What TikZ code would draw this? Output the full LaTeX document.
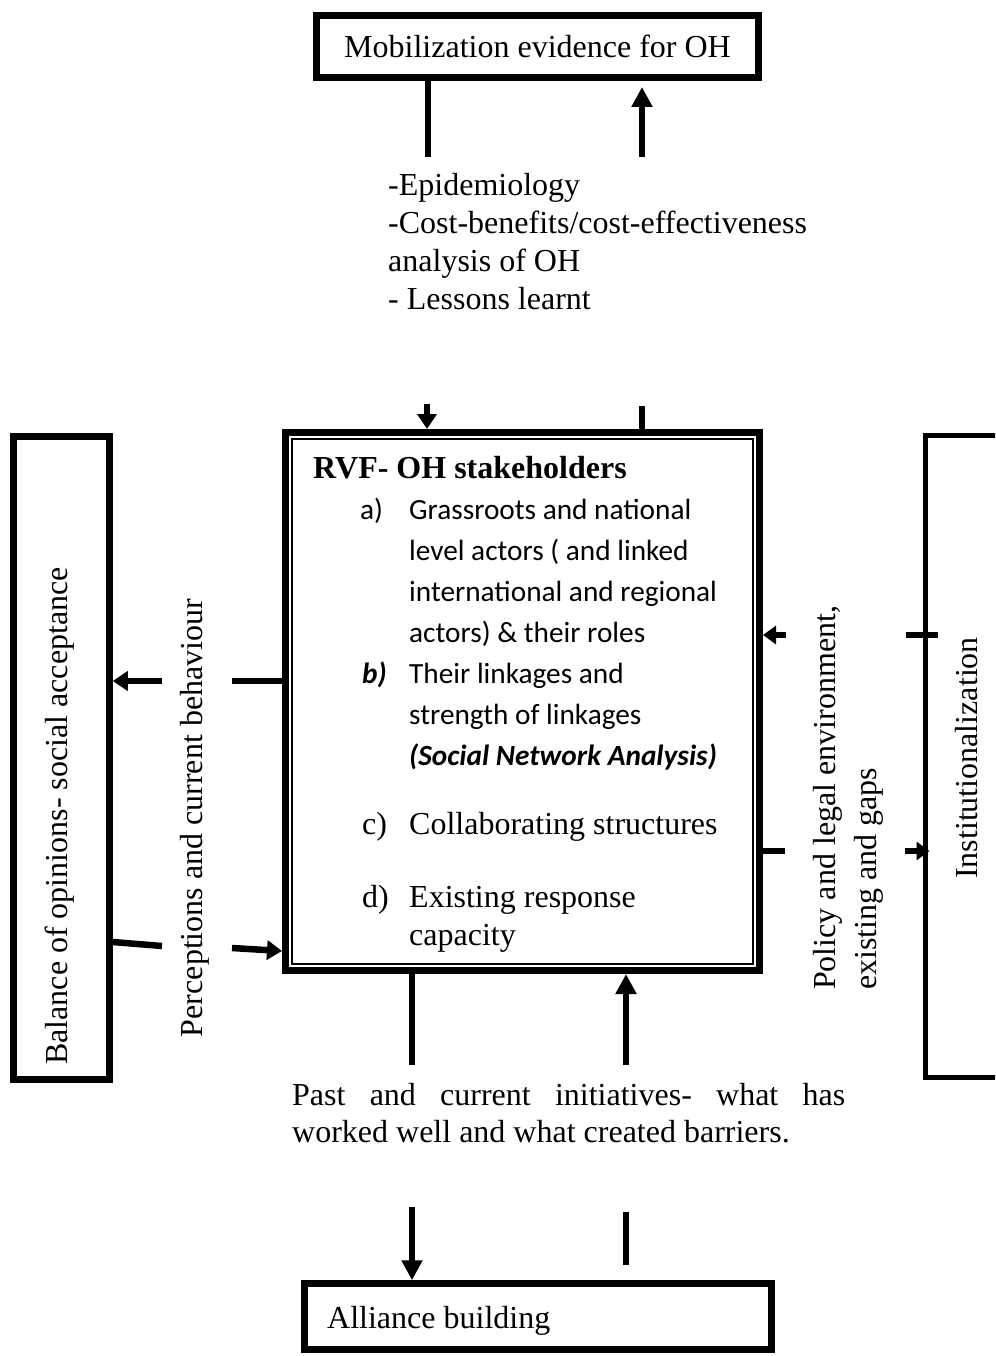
\documentclass[tikz,border=0pt]{standalone}
\usepackage{fontspec}
\setmainfont{Liberation Serif}
\newfontfamily\calibri{Carlito}
\usetikzlibrary{arrows.meta,calc}

\begin{document}
\begin{tikzpicture}[x=1pt,y=-1pt,
  box/.style={draw, rectangle, line width=7pt, inner sep=0pt},
  ln/.style={line width=6.5pt},
  arr/.style={line width=6.5pt, -{Triangle[length=20pt,width=20pt]}},
  arrshort/.style={line width=6.5pt, -{Triangle[length=15pt,width=19pt]}},
  arrsmall/.style={line width=6pt, -{Triangle[length=13pt,width=18pt]}},
  tm/.style={font=\fontsize{32}{38}\selectfont, inner sep=0pt},
  tmb/.style={font=\fontsize{32}{38}\selectfont\bfseries, inner sep=0pt},
  cb/.style={font=\calibri\fontsize{29.3}{41}\selectfont, inner sep=0pt},
  cbb/.style={font=\calibri\fontsize{29.3}{41}\selectfont\bfseries\itshape, inner sep=0pt},
]
\useasboundingbox (0,0) rectangle (995,1356);
\clip (0,0) rectangle (995,1356);

% boxes
\node[box, tm, minimum width=442pt, minimum height=62pt] (mob) at (537.5,46.5) {Mobilization evidence for OH};
\node[box, minimum width=474pt, minimum height=538pt] (rvf) at (522.5,701.5) {};
\draw[line width=1.5pt] ([shift={(10,10)}]rvf.north west) rectangle ([shift={(-10,-10)}]rvf.south east);
\node[box, line width=6.5pt, minimum width=96pt, minimum height=643pt] (bal) at (61.5,758) {};
\node[box, line width=5pt, minimum width=90pt, minimum height=642pt] (inst) at (970,756.5) {};
\node[box, line width=6.5pt, minimum width=467pt, minimum height=66pt] (all) at (538,1316.5) {};

% evidence list
\node[tm, anchor=base west] (ev1) at (388,196) {-Epidemiology};
\node[tm, anchor=base west] (ev2) at (388,234) {-Cost-benefits/cost-effectiveness};
\node[tm, anchor=base west] (ev3) at (388,272) {analysis of OH};
\node[tm, anchor=base west] (ev4) at (388,309) {- Lessons learnt};

% stakeholder box content
\node[tmb, anchor=base west] (ttl) at (313,478) {RVF- OH stakeholders};
\node[cb, anchor=base west] (la) at (360,519) {a)};
\node[cb, anchor=base west] (a1) at (409,519) {Grassroots and national};
\node[cb, anchor=base west] (a2) at (409,560) {level actors ( and linked};
\node[cb, anchor=base west] (a3) at (409,601) {international and regional};
\node[cb, anchor=base west] (a4) at (409,642) {actors) \& their roles};
\node[cbb, anchor=base west] (lb) at (362,683) {b)};
\node[cb, anchor=base west] (b1t) at (409,683) {Their linkages and};
\node[cb, anchor=base west] (b2t) at (409,724) {strength of linkages};
\node[cbb, anchor=base west] (b3t) at (409,765) {(Social Network Analysis)};
\node[tm, anchor=base west] (lc) at (362,834) {c)};
\node[tm, anchor=base west] (c1) at (409,834) {Collaborating structures};
\node[tm, anchor=base west] (ld) at (362,907) {d)};
\node[tm, anchor=base west] (d1) at (409,907) {Existing response};
\node[tm, anchor=base west] (d2) at (409,945) {capacity};

% lower text
\node[tm, anchor=base west] (past1) at (292,1105) {\makebox[553pt][s]{Past and current initiatives- what has}};
\node[tm, anchor=base west] (past2) at (292,1142) {worked well and what created barriers.};
\node[tm, anchor=base west] (allt) at (327,1328) {Alliance building};

% rotated labels
\node[tm, rotate=90, anchor=base] (balt) at (67,816) {Balance of opinions- social acceptance};
\node[tm, rotate=90, anchor=base] (perc) at (202,818) {Perceptions and current behaviour};
\node[tm, rotate=90, anchor=base west] (pol1) at (835,990) {Policy and legal environment,};
\node[tm, rotate=90, anchor=base west] (pol2) at (876,990) {existing and gaps};
\node[tm, rotate=90, anchor=base] (instt) at (977,758) {Institutionalization};

% connectors: top
\coordinate (t1) at (428,157);
\coordinate (t2) at (642,157);
\coordinate (t3) at (427,404);
\coordinate (t4) at (642,406);
\draw[ln] (mob.south -| t1) -- (t1);
\draw[arr, shorten >=6pt] (t2) -- (mob.south -| t2);
\draw[arrshort] (t3) -- (rvf.north -| t3);
\draw[ln] (t4) -- (rvf.north -| t4);

% connectors: left
\coordinate (l1) at (162,681);
\coordinate (l2) at (232,681);
\coordinate (l3) at (162,946);
\coordinate (l4) at (232,948);
\draw[arrshort] (l1) -- (bal.east |- l1);
\draw[ln] (rvf.west |- l2) -- (l2);
\draw[ln] ($(bal.east |- l3)+(0,-4)$) -- (l3);
\draw[arrshort] (l4) -- ($(rvf.west |- l4)+(0,3)$);

% connectors: right
\coordinate (r1) at (786,635);
\coordinate (r2) at (785,851);
\coordinate (r3) at (905,851);
\draw[arrsmall] (r1) -- (rvf.east |- r1);
\draw[ln] ($(inst.west |- r1)+(-17,0)$) -- ($(inst.west |- r1)+(15,0)$);
\draw[ln] (rvf.east |- r2) -- (r2);
\draw[arrsmall] (r3) -- ($(inst.west |- r3)+(7,0)$);

% connectors: bottom
\coordinate (b1) at (412,1065);
\coordinate (b2) at (626,1065);
\coordinate (b3) at (412,1207);
\coordinate (b4) at (626,1212);
\coordinate (b5) at (626,1265);
\draw[ln] (rvf.south -| b1) -- (b1);
\draw[arr] (b2) -- (rvf.south -| b2);
\draw[arr] (b3) -- (all.north -| b3);
\draw[ln] (b4) -- (b5);
\end{tikzpicture}
\end{document}
